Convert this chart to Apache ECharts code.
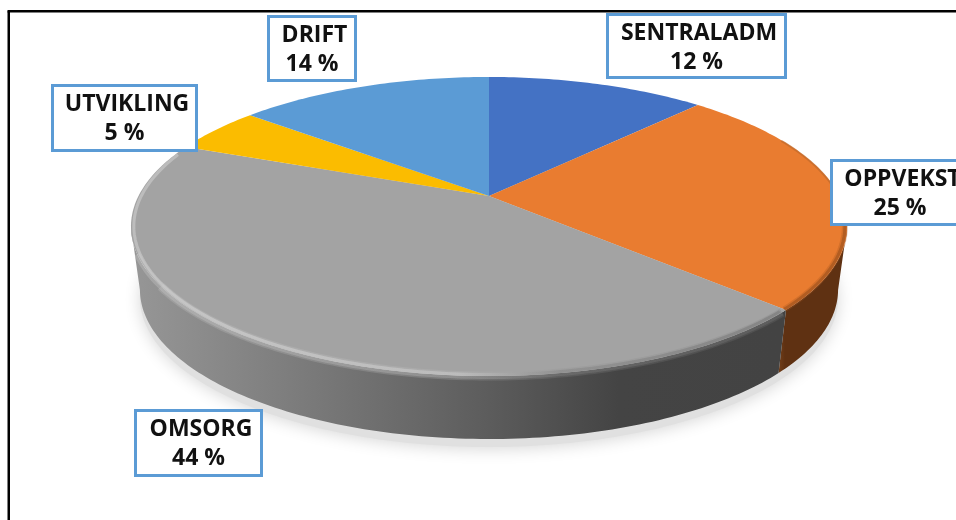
<!DOCTYPE html>
<html>
<head>
<meta charset="utf-8">
<title>Pie</title>
<script src="https://cdn.jsdelivr.net/npm/echarts@6/dist/echarts.min.js"></script>
<style>
  html, body { margin: 0; padding: 0; background: #fff; }
  #chart { width: 956px; height: 520px; }
</style>
</head>
<body>
<div id="chart"></div>
<script>
var categories = ['SENTRALADM', 'OPPVEKST', 'OMSORG', 'UTVIKLING', 'DRIFT'];
var shares = [12, 25, 44, 5, 14];
var sliceColors = ['#4472C4', '#E97C30', '#A3A3A3', '#FBBC00', '#5B9BD5'];

// label boxes, left/top/right/bottom in pixels
var labelBoxes = [
  [606, 13, 787, 79],
  [830, 159, 970, 226],
  [134, 409, 263, 477],
  [51, 84, 198, 152],
  [267, 15, 357, 82]
];

// tilted disc: apex on screen + perspective factor
var cx = 489, cy = 196, rx = 350.5, ry = 143.3, tilt = 0.204;
var depth = 63, bottomScale = 0.975;

function project(deg) {
  var t = deg * Math.PI / 180;
  var x = Math.sin(t), y = Math.cos(t);
  var w = 1 + tilt * y;
  return [cx + rx * x / w, cy - ry * y / w];
}

function projectBottom(deg) {
  var p = project(deg);
  return [cx + (p[0] - cx) * bottomScale, p[1] + depth];
}

function inset(deg, k) {
  var p = project(deg);
  return [cx + (p[0] - cx) * k, cy + (p[1] - cy) * k];
}

function arc(from, to, fn) {
  var pts = [];
  var n = Math.max(2, Math.ceil(Math.abs(to - from)));
  for (var i = 0; i <= n; i++) {
    pts.push(fn(from + (to - from) * i / n));
  }
  return pts;
}

// angles where the disc outline is widest, the wall only shows between them
var frontStart = 0, frontEnd = 0;
for (var d = 0; d < 360; d += 0.5) {
  if (project(d)[0] > project(frontStart)[0]) frontStart = d;
  if (project(d)[0] < project(frontEnd)[0]) frontEnd = d;
}

function sliceAngles(i) {
  var total = shares.reduce(function (a, b) { return a + b; }, 0);
  var before = 0;
  for (var k = 0; k < i; k++) before += shares[k];
  return [before / total * 360, (before + shares[i]) / total * 360];
}

function gradientX(x0, x1, stops) {
  return new echarts.graphic.LinearGradient(x0, 0, x1, 0, stops.map(function (s) {
    return { offset: s[0], color: s[1] };
  }), true);
}

var wallFills = [
  '#2a4478',
  gradientX(778, 847, [[0, '#74401a'], [0.1, '#5f3112'], [1, '#5f3112']]),
  gradientX(135, 780, [[0, '#969696'], [0.25, '#7c7c7c'], [0.55, '#5c5c5c'], [0.75, '#444444'], [1, '#434343']]),
  '#997300',
  '#376092'
];

var greyRim = [[0, '#d2d2d2'], [0.5, '#c4c4c4'], [0.66, '#8c8c8c'], [1, '#7c7c7c']];

function renderShadow(params, api) {
  var pts = arc(0, 360, projectBottom).map(function (p) {
    return [p[0], p[1] + 8];
  });
  return {
    type: 'polygon',
    shape: { points: pts },
    style: { fill: '#e0e0e0', shadowBlur: 16, shadowColor: '#d8d8d8', shadowOffsetY: 2 }
  };
}

function renderWall(params, api) {
  var i = api.value(0);
  var a = sliceAngles(i);
  var from = Math.max(a[0], frontStart);
  var to = Math.min(a[1], frontEnd);
  if (to <= from) return null;
  var pts = arc(from, to, project).concat(arc(to, from, projectBottom));
  return {
    type: 'polygon',
    shape: { points: pts },
    style: { fill: wallFills[i] }
  };
}

function renderTop(params, api) {
  var i = api.value(0);
  var a = sliceAngles(i);
  var pts = [[cx, cy]].concat(arc(a[0], a[1], project));
  return {
    type: 'polygon',
    shape: { points: pts },
    style: { fill: sliceColors[i] }
  };
}

function softLine(points, stroke, width, opacity) {
  return {
    type: 'polyline',
    shape: { points: points },
    style: { fill: 'none', stroke: stroke, lineWidth: width, opacity: opacity }
  };
}

// soft rim along the front edge of the top face
function renderRim(params, api) {
  var i = api.value(0);
  var a = sliceAngles(i);
  if (i === 2) {
    var stroke = gradientX(135, 780, greyRim);
    var wide = arc(a[0] + 1, frontEnd - 22, project);
    var mid = arc(a[0] + 1, frontEnd - 10, project);
    var thin = arc(a[0] + 1, frontEnd + 30, function (d) { return inset(d, 0.992); });
    return {
      type: 'group',
      children: [
        softLine(wide, stroke, 9, 0.22),
        softLine(mid, stroke, 6, 0.3),
        softLine(thin, stroke, 3, 0.55)
      ]
    };
  }
  if (i === 1) {
    var edge = arc(frontStart - 12, a[1], function (d) { return inset(d, 0.994); });
    var upper = arc(a[0] + 22, frontStart - 12, function (d) { return inset(d, 0.997); });
    return {
      type: 'group',
      children: [
        softLine(upper, '#b9682c', 2, 0.6),
        softLine(edge, '#a5571f', 6, 0.3),
        softLine(edge, '#8f4a1a', 3, 0.5)
      ]
    };
  }
  return null;
}

function renderLabel(params, api) {
  var i = api.value(0);
  var b = labelBoxes[i];
  var mid = (b[0] + b[2]) / 2;
  var font = { fontFamily: '"Open Sans"', fontWeight: 'bold', fontSize: 23, fill: '#111', align: 'center', verticalAlign: 'middle' };
  return {
    type: 'group',
    children: [{
      type: 'rect',
      shape: { x: b[0] + 1.5, y: b[1] + 1.5, width: b[2] - b[0] - 3, height: b[3] - b[1] - 3 },
      style: { fill: '#fff', stroke: '#5B9BD5', lineWidth: 3 }
    }, {
      type: 'text',
      style: Object.assign({ x: mid + 2.5, y: b[1] + 20, text: categories[i] }, font)
    }, {
      type: 'text',
      style: Object.assign({ x: mid, y: b[1] + 49, text: shares[i] + ' %' }, font)
    }]
  };
}

function customSeries(fn, z, rows) {
  return {
    type: 'custom',
    coordinateSystem: 'none',
    renderItem: fn,
    silent: true,
    animation: false,
    clip: false,
    z: z,
    data: rows
  };
}

var rows = shares.map(function (v, i) { return [i, v]; });

var chart = echarts.init(document.getElementById('chart'));
var option = {
  backgroundColor: '#fff',
  animation: false,
  graphic: [
    { type: 'line', z: 0, shape: { x1: 8.75, y1: 11.25, x2: 8.75, y2: 520 }, style: { stroke: '#000', lineWidth: 2.5 } },
    { type: 'line', z: 0, shape: { x1: 7.5, y1: 11.25, x2: 956, y2: 11.25 }, style: { stroke: '#000', lineWidth: 2.5 } }
  ],
  series: [
    customSeries(renderShadow, 1, [[0]]),
    customSeries(renderWall, 2, rows),
    customSeries(renderTop, 3, rows),
    customSeries(renderRim, 4, rows),
    customSeries(renderLabel, 5, rows)
  ]
};
chart.setOption(option);
window.addEventListener('resize', function () {
  chart.resize();
});
</script>
</body>
</html>
